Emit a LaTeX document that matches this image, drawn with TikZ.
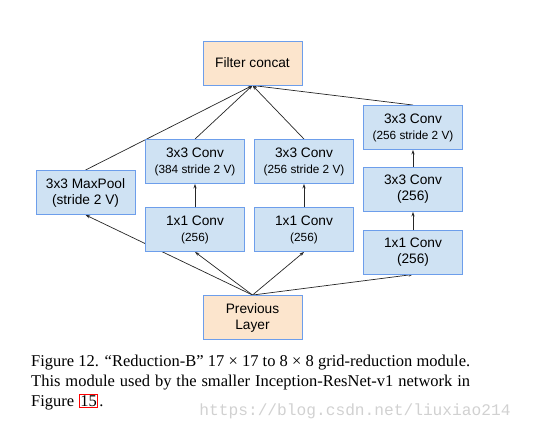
\documentclass[tikz,border=0pt]{standalone}
\usepackage{fontspec}
\setmainfont{Liberation Sans}
\newfontfamily\capfont{Liberation Serif}
\newfontfamily\wmfont{Liberation Mono}
\usetikzlibrary{arrows.meta,backgrounds}
\definecolor{boxblue}{HTML}{CFE2F3}
\definecolor{boxorange}{HTML}{FCE5CD}
\definecolor{edgeblue}{HTML}{6D9EEB}
\newcommand\smalltxt[1]{{\fontsize{11.8pt}{14pt}\selectfont #1}}

\begin{document}
\begin{tikzpicture}
  [x=1pt,y=-1pt,>={Stealth[length=4.5pt,width=3.2pt]},
   block/.style={rectangle,draw=edgeblue,line width=0.9pt,fill=boxblue,
     minimum width=99pt,minimum height=44pt,inner sep=0pt,align=center,
     font=\fontsize{13.7pt}{16pt}\selectfont},
   ioblock/.style={block,fill=boxorange},
   captext/.style={anchor=base west,inner sep=0pt,font=\capfont\fontsize{16.5pt}{20pt}\selectfont}]
  \useasboundingbox (0,0) rectangle (535,432);

  \node[ioblock] (fc) at (252.5,63) {Filter concat};
  \node[block] (pool) at (85.5,192.5) {3x3 MaxPool\\(stride 2 V)};
  \node[block] (c3a) at (195,161.5) {3x3 Conv\\\smalltxt{(384 stride 2 V)}};
  \node[block] (c1a) at (195,229.5) {1x1 Conv\\\smalltxt{(256)}};
  \node[block] (c3b) at (304,161.5) {3x3 Conv\\\smalltxt{(256 stride 2 V)}};
  \node[block] (c1b) at (304,229.5) {1x1 Conv\\\smalltxt{(256)}};
  \node[block] (r3s) at (413,127.5) {3x3 Conv\\\smalltxt{(256 stride 2 V)}};
  \node[block] (r3) at (413,189.5) {3x3 Conv\\(256)};
  \node[block] (r1) at (413,252) {1x1 Conv\\(256)};
  \node[ioblock] (prev) at (252.5,317.5) {Previous\\Layer};

  \begin{scope}[on background layer]
    \foreach \from/\to in {prev/pool,prev/c1a,prev/c1b,prev/r1,c1a/c3a,c1b/c3b,r1/r3,r3/r3s,pool/fc,c3a/fc,c3b/fc,r3s/fc}
      \draw[->,line width=0.7pt,black!85] (\from.north) -- (\to.south);
  \end{scope}

  % caption
  \node[captext] (cap1) at (31,366.5) {\makebox[439pt][s]{Figure 12. “Reduction-B” 17 × 17 to 8 × 8 grid-reduction module.}};
  \node[captext] (cap2) at (31,386.5) {\makebox[439pt][s]{This module used by the smaller Inception-ResNet-v1 network in}};
  \node[captext] (cap3) at (31,406.5) {Figure};
  \node[captext,draw=red,inner sep=1pt,line width=0.7pt] (ref) at ([xshift=4.5pt]cap3.base east) {15};
  \node[captext] (dot) at ([xshift=1pt]ref.base east) {.};
  \node[font=\wmfont\fontsize{16.2pt}{18pt}\selectfont,text=black!18,inner sep=0pt] (mark) at (355,411) {https://blog.csdn.net/liuxiao214};
\end{tikzpicture}
\end{document}
